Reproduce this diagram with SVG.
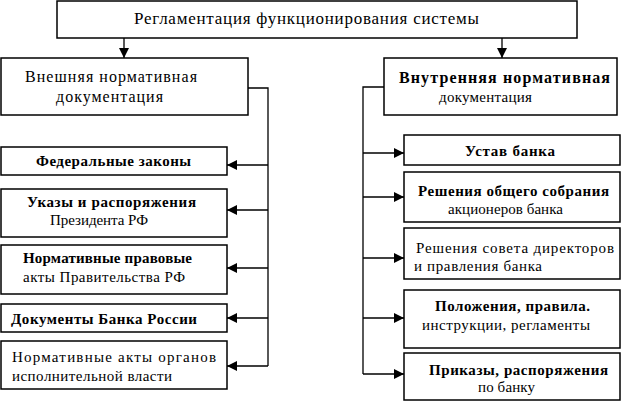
<svg xmlns="http://www.w3.org/2000/svg" width="624" height="402" viewBox="0 0 624 402">
<style>
.box{fill:#fff;stroke:#000;stroke-width:1.5}
.t{font-family:"Liberation Serif","Times New Roman",serif;font-size:15px;fill:#000}
.b{font-weight:bold}
.h{font-size:17px}
.m{font-size:16px}
.ln{fill:none;stroke:#000;stroke-width:1.3}
</style>
<defs>
<marker id="ar" viewBox="0 0 10 10" refX="10" refY="5" markerWidth="10" markerHeight="11" markerUnits="userSpaceOnUse" orient="auto">
<path d="M0,0 L10,5 L0,10 Z" fill="#000"/>
</marker>
</defs>
<g id="top">
<rect class="box" x="57" y="1" width="520" height="37"/>
<text class="t h" x="134" y="24" textLength="345">Регламентация функционирования системы</text>
</g>
<g id="ext">
<rect class="box" x="1" y="58" width="247" height="57"/>
<text class="t m" x="25" y="82" textLength="172">Внешняя нормативная</text>
<text class="t m" x="56" y="102" textLength="107">документация</text>
</g>
<g id="int">
<rect class="box" x="384" y="58" width="233" height="57"/>
<text class="t m b" x="399" y="83" textLength="211">Внутренняя нормативная</text>
<text class="t" x="439" y="102" textLength="93">документация</text>
</g>
<g id="l1">
<rect class="box" x="1" y="147" width="226" height="28"/>
<text class="t b" x="36" y="166" textLength="155">Федеральные законы</text>
</g>
<g id="l2">
<rect class="box" x="1" y="189" width="226" height="48"/>
<text class="t b" x="27" y="207" textLength="169">Указы и распоряжения</text>
<text class="t" x="50" y="225" textLength="98">Президента РФ</text>
</g>
<g id="l3">
<rect class="box" x="1" y="245" width="226" height="49"/>
<text class="t b" x="23" y="263" textLength="169">Нормативные правовые</text>
<text class="t" x="23" y="282" textLength="162">акты Правительства РФ</text>
</g>
<g id="l4">
<rect class="box" x="1" y="304" width="226" height="28"/>
<text class="t b" x="11" y="324" textLength="186">Документы Банка России</text>
</g>
<g id="l5">
<rect class="box" x="1" y="341" width="226" height="48"/>
<text class="t" x="12" y="362" textLength="204">Нормативные акты органов</text>
<text class="t" x="12" y="381" textLength="160">исполнительной власти</text>
</g>
<g id="r1">
<rect class="box" x="404" y="135" width="216" height="30"/>
<text class="t b" x="465" y="156" textLength="90">Устав банка</text>
</g>
<g id="r2">
<rect class="box" x="404" y="172" width="216" height="50"/>
<text class="t b" x="418" y="196" textLength="191">Решения общего собрания</text>
<text class="t" x="448" y="214" textLength="115">акционеров банка</text>
</g>
<g id="r3">
<rect class="box" x="404" y="228" width="216" height="51"/>
<text class="t" x="416" y="253" textLength="198">Решения совета директоров</text>
<text class="t" x="414" y="271" textLength="128">и правления банка</text>
</g>
<g id="r4">
<rect class="box" x="404" y="290" width="216" height="58"/>
<text class="t b" x="435" y="311" textLength="155">Положения, правила.</text>
<text class="t" x="422" y="330" textLength="168">инструкции, регламенты</text>
</g>
<g id="r5">
<rect class="box" x="404" y="353" width="216" height="47"/>
<text class="t b" x="429" y="375" textLength="179">Приказы, распоряжения</text>
<text class="t" x="478" y="392" textLength="57">по банку</text>
</g>
<g id="connectors">
<path class="ln" d="M124,38 V58" marker-end="url(#ar)"/>
<path class="ln" d="M502,38 V58" marker-end="url(#ar)"/>
<path class="ln" d="M248,88 H268 V366"/>
<path class="ln" d="M268,165 H227" marker-end="url(#ar)"/>
<path class="ln" d="M268,210 H227" marker-end="url(#ar)"/>
<path class="ln" d="M268,268 H227" marker-end="url(#ar)"/>
<path class="ln" d="M268,318 H227" marker-end="url(#ar)"/>
<path class="ln" d="M268,366 H227" marker-end="url(#ar)"/>
<path class="ln" d="M384,87 H363 V374"/>
<path class="ln" d="M363,153 H404" marker-end="url(#ar)"/>
<path class="ln" d="M363,197 H404" marker-end="url(#ar)"/>
<path class="ln" d="M363,258 H404" marker-end="url(#ar)"/>
<path class="ln" d="M363,318 H404" marker-end="url(#ar)"/>
<path class="ln" d="M363,374 H404" marker-end="url(#ar)"/>
</g>
</svg>
